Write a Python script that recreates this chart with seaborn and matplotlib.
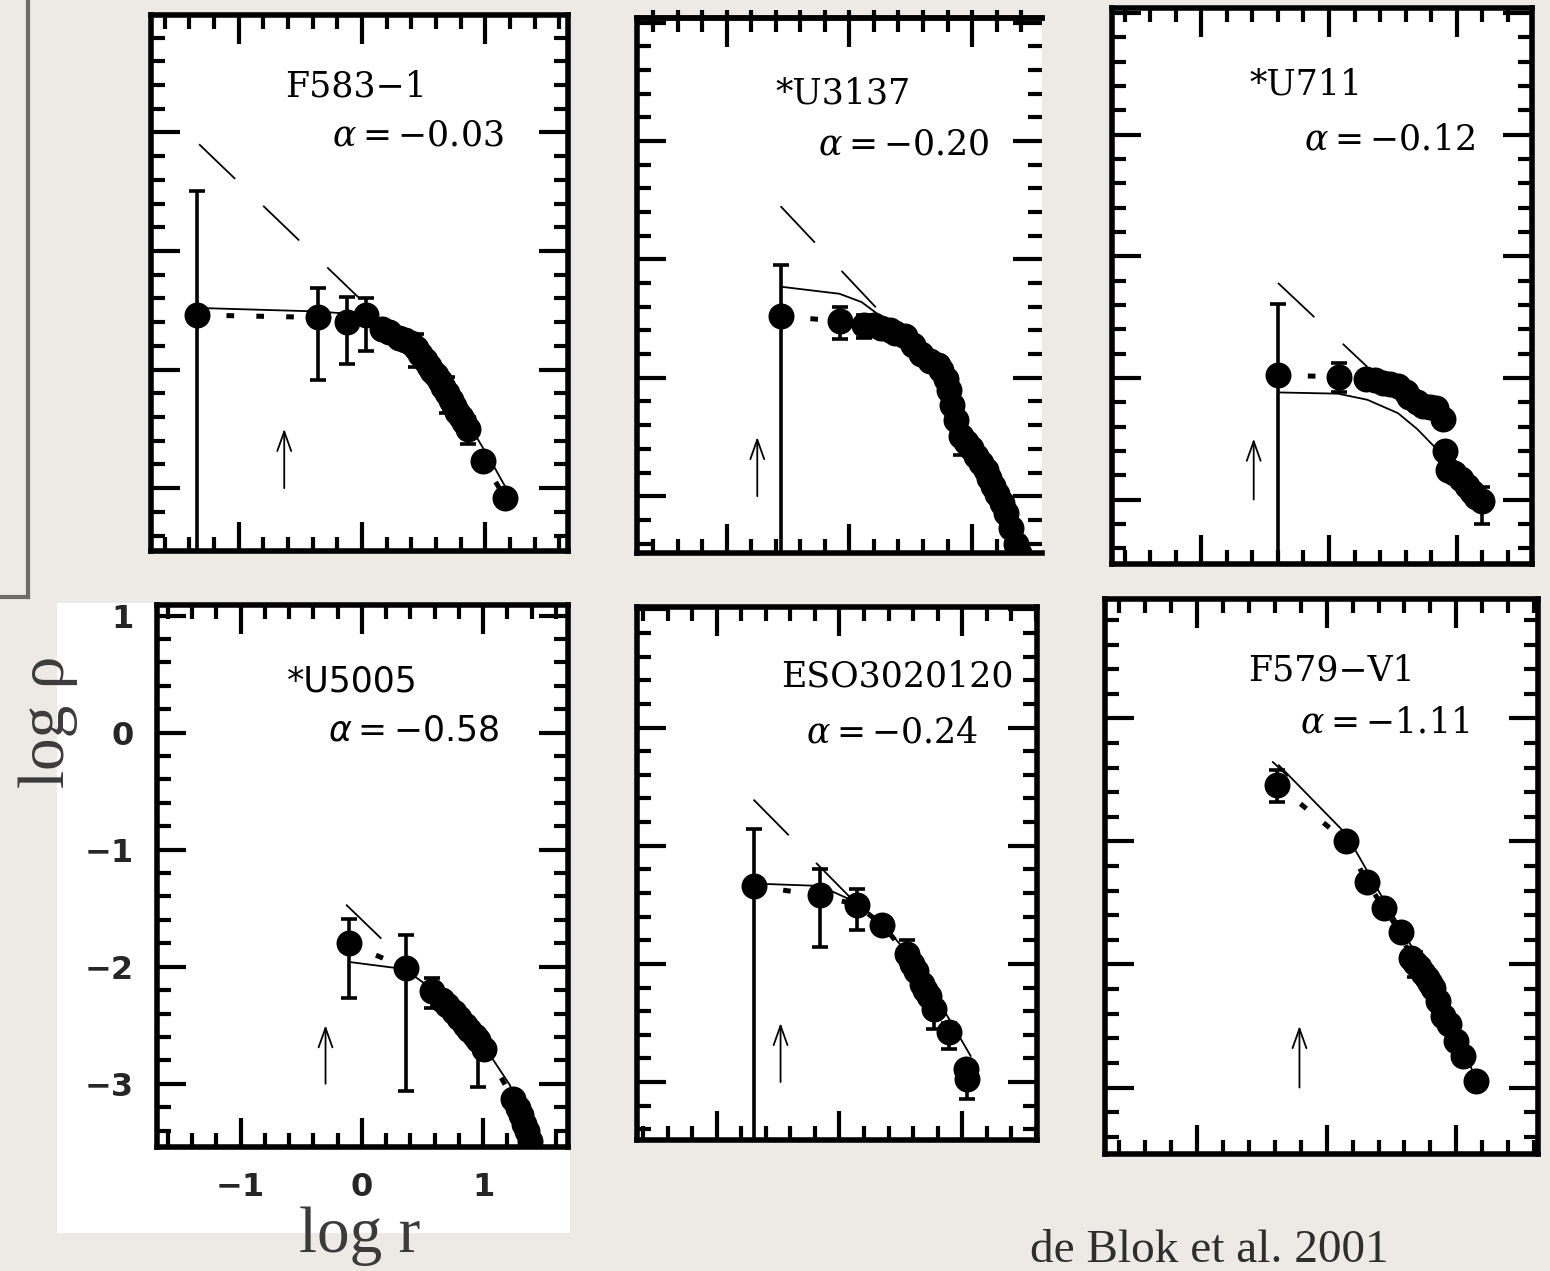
import numpy as np
import pandas as pd
import seaborn as sns
import matplotlib.pyplot as plt
from matplotlib.ticker import MultipleLocator
from matplotlib.lines import Line2D
from matplotlib.patches import Rectangle

# ---------------- data ----------------
names = ["F583\u22121", "*U3137", "*U711", "*U5005", "ESO3020120", "F579\u2212V1"]
alphas = [-0.03, -0.20, -0.12, -0.58, -0.24, -1.11]
arrow_x = [-0.63, -0.75, -0.59, -0.30, -0.48, -0.21]

# F583-1
f583_x = [-1.34, -0.36, -0.12, 0.03, 0.16, 0.22, 0.30, 0.35, 0.40, 0.44, 0.47, 0.51, 0.54,
          0.57, 0.60, 0.63, 0.66, 0.69, 0.72, 0.75, 0.77, 0.80, 0.83, 0.86, 0.98, 1.16]
f583_y = [-1.54, -1.56, -1.60, -1.54, -1.66, -1.68, -1.73, -1.75, -1.78, -1.82, -1.87, -1.92, -1.97,
          -2.01, -2.05, -2.10, -2.15, -2.20, -2.26, -2.31, -2.36, -2.40, -2.44, -2.50, -2.77, -3.08]
f583_ex = [-1.34, -0.36, -0.12, 0.03, 0.44, 0.69, 0.86]
f583_elo = [-4.0, -2.09, -1.95, -1.84, -1.98, -2.37, -2.63]
f583_ehi = [-0.49, -1.31, -1.39, -1.40, -1.70, -2.06, -2.40]
f583_mx = [-1.34, -0.36, -0.10, 0.10, 0.30, 0.50, 0.70, 0.90, 1.05, 1.20]
f583_my = [-1.48, -1.51, -1.53, -1.60, -1.72, -1.92, -2.18, -2.52, -2.78, -3.06]
f583_rx = [-1.32, -0.03]
f583_ry = [-0.10, -1.39]

# U3137
u3137_x = [-0.56, -0.08, 0.12, 0.20, 0.26, 0.33, 0.37, 0.45, 0.52, 0.58, 0.66, 0.72, 0.75, 0.79,
           0.81, 0.84, 0.87, 0.91, 0.95, 0.99, 1.03, 1.07, 1.11, 1.14, 1.17, 1.20, 1.24, 1.28,
           1.32, 1.36, 1.38]
u3137_y = [-1.48, -1.52, -1.55, -1.55, -1.58, -1.60, -1.62, -1.65, -1.72, -1.80, -1.86, -1.89,
           -1.93, -2.01, -2.10, -2.23, -2.36, -2.49, -2.54, -2.59, -2.66, -2.72, -2.78, -2.85,
           -2.91, -2.98, -3.06, -3.14, -3.27, -3.40, -3.48]
u3137_ex = [-0.56, -0.08, 0.12, 0.91]
u3137_elo = [-4.0, -1.67, -1.66, -2.65]
u3137_ehi = [-1.05, -1.40, -1.47, -2.42]
u3137_mx = [-0.56, -0.08, 0.10, 0.23, 0.40, 0.60, 0.78, 0.88, 1.00, 1.15, 1.30, 1.40]
u3137_my = [-1.23, -1.29, -1.36, -1.46, -1.62, -1.80, -2.00, -2.30, -2.60, -2.90, -3.20, -3.45]
u3137_rx = [-0.56, 0.23]
u3137_ry = [-0.55, -1.42]

# U711
u711_x = [-0.40, 0.08, 0.29, 0.36, 0.42, 0.48, 0.54, 0.60, 0.63, 0.69, 0.74, 0.79, 0.84, 0.89,
          0.91, 0.93, 0.98, 1.03, 1.08, 1.12, 1.15, 1.20]
u711_y = [-1.98, -1.99, -2.01, -2.02, -2.04, -2.05, -2.07, -2.12, -2.16, -2.20, -2.23, -2.24,
          -2.25, -2.34, -2.60, -2.76, -2.78, -2.83, -2.89, -2.94, -2.98, -3.01]
u711_ex = [-0.40, 0.08, 1.20]
u711_elo = [-4.0, -2.12, -3.20]
u711_ehi = [-1.39, -1.88, -2.90]
u711_mx = [-0.39, 0.07, 0.30, 0.54, 0.69, 0.82, 0.98, 1.19]
u711_my = [-2.12, -2.13, -2.18, -2.29, -2.42, -2.56, -2.76, -2.98]
u711_rx = [-0.40, 0.30]
u711_ry = [-1.22, -1.91]

# U5005
u5005_x = [-0.11, 0.36, 0.58, 0.66, 0.70, 0.76, 0.80, 0.85, 0.88, 0.93, 0.96, 1.01, 1.25, 1.29,
           1.31, 1.34, 1.36, 1.39]
u5005_y = [-1.80, -2.01, -2.21, -2.28, -2.33, -2.39, -2.44, -2.50, -2.54, -2.59, -2.63, -2.70,
           -3.13, -3.21, -3.27, -3.34, -3.40, -3.49]
u5005_ex = [-0.11, 0.36, 0.58, 0.96]
u5005_elo = [-2.27, -3.06, -2.35, -3.03]
u5005_ehi = [-1.59, -1.73, -2.10, -2.55]
u5005_mx = [-0.10, 0.35, 0.58, 0.80, 0.99, 1.22, 1.42]
u5005_my = [-1.96, -2.02, -2.19, -2.42, -2.65, -3.01, -3.51]
u5005_rx = [-0.13, 0.16]
u5005_ry = [-1.47, -1.76]

# ESO3020120
eso_x = [-0.70, -0.16, 0.14, 0.35, 0.55, 0.59, 0.62, 0.67, 0.70, 0.73, 0.77, 0.89, 1.03, 1.04]
eso_y = [-1.34, -1.42, -1.50, -1.67, -1.92, -2.00, -2.06, -2.17, -2.22, -2.27, -2.38, -2.58,
         -2.89, -2.97]
eso_ex = [-0.70, -0.16, 0.14, 0.55, 0.77, 0.89, 1.04]
eso_elo = [-4.0, -1.86, -1.71, -2.00, -2.55, -2.72, -3.14]
eso_ehi = [-0.86, -1.20, -1.37, -1.80, -2.30, -2.50, -2.85]
eso_mx = [-0.70, -0.16, 0.14, 0.36, 0.58, 0.77, 0.93, 1.07]
eso_my = [-1.32, -1.34, -1.48, -1.67, -1.94, -2.25, -2.53, -2.78]
eso_rx = [-0.70, 0.09]
eso_ry = [-0.61, -1.44]

# F579-V1
f579_x = [-0.38, 0.15, 0.31, 0.44, 0.57, 0.65, 0.68, 0.71, 0.74, 0.77, 0.80, 0.82, 0.86, 0.90,
          0.94, 1.00, 1.05, 1.15]
f579_y = [-0.54, -1.00, -1.33, -1.54, -1.74, -1.95, -1.99, -2.02, -2.07, -2.11, -2.15, -2.19,
          -2.30, -2.42, -2.48, -2.62, -2.74, -2.95]
f579_ex = [-0.38, 0.68]
f579_elo = [-0.68, -2.10]
f579_ehi = [-0.42, -1.90]
f579_mx = [-0.37, 0.15, 0.41, 0.67, 0.92, 1.15]
f579_my = [-0.38, -0.94, -1.42, -1.88, -2.40, -2.92]
f579_rx = [-0.42, -0.30]
f579_ry = [-0.35, -0.47]

series = [
    (f583_x, f583_y, f583_ex, f583_elo, f583_ehi, f583_mx, f583_my, f583_rx, f583_ry),
    (u3137_x, u3137_y, u3137_ex, u3137_elo, u3137_ehi, u3137_mx, u3137_my, u3137_rx, u3137_ry),
    (u711_x, u711_y, u711_ex, u711_elo, u711_ehi, u711_mx, u711_my, u711_rx, u711_ry),
    (u5005_x, u5005_y, u5005_ex, u5005_elo, u5005_ehi, u5005_mx, u5005_my, u5005_rx, u5005_ry),
    (eso_x, eso_y, eso_ex, eso_elo, eso_ehi, eso_mx, eso_my, eso_rx, eso_ry),
    (f579_x, f579_y, f579_ex, f579_elo, f579_ehi, f579_mx, f579_my, f579_rx, f579_ry),
]

# ---------------- layout (pixels in the 1550x1271 canvas) ----------------
W, H = 1550, 1271
boxes = [(151, 15, 568, 551), (637, 18, 1042, 553), (1112, 8, 1532, 564),
         (157, 605, 568, 1147), (637, 607, 1037, 1140), (1105, 599, 1538, 1154)]
xlims = [(-1.71, 1.67), (-1.73, 1.57), (-1.70, 1.59), (-1.69, 1.70), (-1.65, 1.61), (-1.71, 1.63)]
ylims = [(-3.53, 0.99), (-3.48, 1.04), (-3.53, 1.04), (-3.54, 1.09), (-3.49, 1.02), (-3.54, 0.97)]
name_pos = [(-0.05, 0.39, 'center'), (-0.05, 0.40, 'center'), (-0.18, 0.41, 'center'),
            (-0.08, 0.44, 'center'), (1.42, 0.43, 'right'), (0.04, 0.39, 'center')]
alpha_pos = [(1.15, -0.03), (1.14, -0.03), (1.14, -0.04), (1.14, 0.02), (1.13, -0.04), (1.10, -0.03)]

BG = "#edeae5"

sns.set_theme(style="white")
plt.rcParams['font.family'] = ['DejaVu Serif']
plt.rcParams['mathtext.fontset'] = 'dejavuserif'
plt.rcParams['lines.scale_dashes'] = False
plt.rcParams['axes.unicode_minus'] = True

fig = plt.figure(figsize=(W / 100, H / 100), dpi=100, facecolor=BG)

# white patch behind the lower-left panel (pasted image)
fig.add_artist(Rectangle((57 / W, 1 - 1233 / H), (570 - 57) / W, (1233 - 603) / H,
                         transform=fig.transFigure, facecolor='white', edgecolor='none', zorder=-5))
# slide frame on the left
fig.add_artist(Line2D([28 / W, 28 / W], [1.0, 1 - 597 / H], transform=fig.transFigure,
                      color='#6e6b67', lw=3, solid_capstyle='projecting'))
fig.add_artist(Line2D([0, 28 / W], [1 - 597 / H, 1 - 597 / H], transform=fig.transFigure,
                      color='#6e6b67', lw=3, solid_capstyle='projecting'))

for i, (x, y, ex, elo, ehi, mx, my, rx, ry) in enumerate(series):
    l, t, r, b = boxes[i]
    ax = fig.add_axes([l / W, 1 - b / H, (r - l) / W, (b - t) / H])
    ax.set_facecolor('white')

    # thick dotted line joining the data
    ax.plot(x, y, color='black', lw=3.6, linestyle=(0, (5.5, 16)), dash_capstyle='butt', zorder=2)
    # model curve
    sns.lineplot(x=mx, y=my, ax=ax, color='black', lw=1.3, sort=False, estimator=None, zorder=3)
    # reference slope (dashed)
    ax.plot(rx, ry, color='black', lw=1.3, dashes=(36, 28), zorder=3)
    # error bars
    elo_a, ehi_a = np.array(elo), np.array(ehi)
    mid = (elo_a + ehi_a) / 2
    half = (ehi_a - elo_a) / 2
    ax.errorbar(ex, mid, yerr=half, fmt='none', ecolor='black', elinewidth=2.6,
                capsize=6, capthick=2.6, zorder=4)
    # data points
    sns.scatterplot(x=x, y=y, ax=ax, s=350, color='black', edgecolor='black', linewidth=0,
                    marker='o', zorder=5, legend=False)
    # arrow
    ax.annotate('', xy=(arrow_x[i], -2.5), xytext=(arrow_x[i], -3.0),
                arrowprops=dict(arrowstyle='->,head_length=0.7,head_width=0.25', lw=1.3,
                                color='black', mutation_scale=20, shrinkA=0, shrinkB=0))

    ax.set_xlim(*xlims[i])
    ax.set_ylim(*ylims[i])
    ax.xaxis.set_major_locator(MultipleLocator(1))
    ax.xaxis.set_minor_locator(MultipleLocator(0.2))
    ax.yaxis.set_major_locator(MultipleLocator(1))
    ax.yaxis.set_minor_locator(MultipleLocator(0.2))
    ax.tick_params(which='both', direction='in', top=True, right=True, bottom=True, left=True,
                   labelbottom=False, labelleft=False, color='black', width=3.0)
    ax.tick_params(which='major', length=21)
    ax.tick_params(which='minor', length=10)
    for s in ax.spines.values():
        s.set_linewidth(4)
        s.set_color('black')
    if i == 1:
        ax.spines['right'].set_visible(False)
        # ticks of the neighbouring (cropped) frame poke above the top edge
        sec = ax.secondary_xaxis('top')
        sec.xaxis.set_major_locator(MultipleLocator(1))
        sec.xaxis.set_minor_locator(MultipleLocator(0.2))
        sec.tick_params(which='both', direction='out', length=6, width=3.0, color='black',
                        labeltop=False)
        sec.spines['top'].set_linewidth(4)
    ax.set_xlabel('')
    ax.set_ylabel('')

    sans = (i == 3)
    fam = 'DejaVu Sans' if sans else 'DejaVu Serif'
    mff = 'dejavusans' if sans else 'dejavuserif'
    nx, ny, nha = name_pos[i]
    ax.text(nx, ny, names[i], ha=nha, va='center', fontsize=25, family=fam, color='black', zorder=6)
    ax_, ay_ = alpha_pos[i]
    ax.text(ax_, ay_, rf"$\alpha={alphas[i]:.2f}$", ha='right', va='center', fontsize=25,
            math_fontfamily=mff, color='black', zorder=6)

    if sans:
        ax.tick_params(labelbottom=True, labelleft=True, labelsize=23)
        ax.tick_params(axis='y', which='major', pad=17)
        ax.tick_params(axis='x', which='major', pad=18)
        for lab in ax.get_xticklabels() + ax.get_yticklabels():
            lab.set_fontfamily('DejaVu Sans')
            lab.set_fontweight('bold')

# axis titles and citation
fig.text(48 / W, 1 - 722 / H, "log \u03c1", rotation=90, ha='center', va='center',
         fontsize=47, family='Liberation Serif', color='#3b3b3b')
fig.text(360 / W, 1 - 1252 / H, "log r", ha='center', va='baseline',
         fontsize=47, family='Liberation Serif', color='#3b3b3b')
fig.text(1030 / W, 1 - 1262 / H, "de Blok et al. 2001", ha='left', va='baseline',
         fontsize=34, family='Liberation Serif', color='#2e2e2e')

fig.savefig("out.png", dpi=100, facecolor=BG)
